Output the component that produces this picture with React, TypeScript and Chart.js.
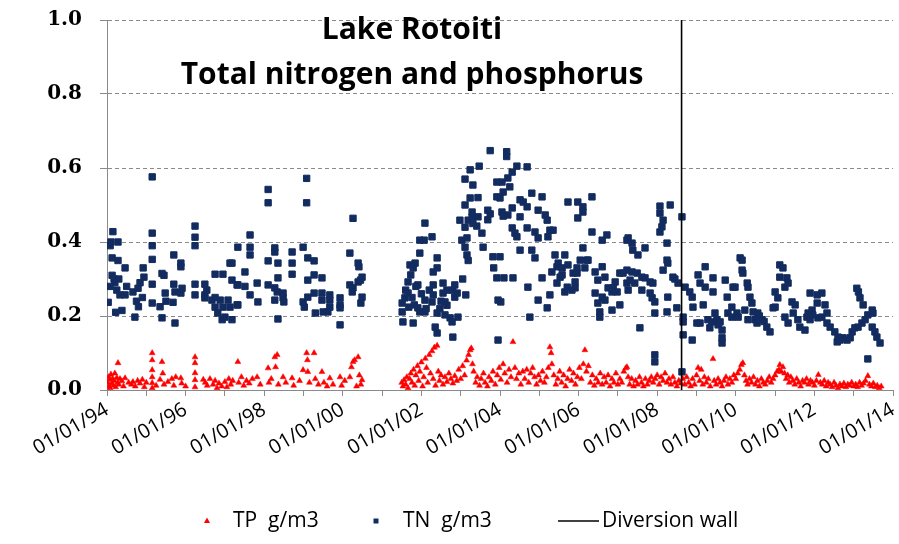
import React, { useEffect, useRef } from "react";
import { Chart, registerables } from "chart.js";

Chart.register(...registerables);

// ---------- data ----------
const titleLines = ["Lake Rotoiti", "Total nitrogen and phosphorus"];
const xTickYears = [1994, 1995, 1996, 1997, 1998, 1999, 2000, 2001, 2002, 2003, 2004, 2005, 2006, 2007, 2008, 2009, 2010, 2011, 2012, 2013, 2014];
const xTickLabels = ["01/01/94", "01/01/96", "01/01/98", "01/01/00", "01/01/02", "01/01/04", "01/01/06", "01/01/08", "01/01/10", "01/01/12", "01/01/14"];
const yTicks = [0, 0.2, 0.4, 0.6, 0.8, 1.0];
const diversionWallYear = 2008.62;
const legendLabels = ["TP  g/m3", "TN  g/m3", "Diversion wall"];

// TN g/m3 : [decimal year, value]
const tnEarly: [number, number][] = [
  [1994.03, 0.237], [1994.08, 0.39], [1994.08, 0.28], [1994.1, 0.4], [1994.13, 0.357], [1994.13, 0.31], [1994.15, 0.428], [1994.18, 0.3], [1994.2, 0.29], [1994.22, 0.21], [1994.25, 0.27], [1994.28, 0.4], [1994.28, 0.35], [1994.3, 0.3], [1994.33, 0.257], [1994.38, 0.215], [1994.46, 0.33], [1994.46, 0.257], [1994.5, 0.28], [1994.66, 0.265], [1994.71, 0.197], [1994.75, 0.24], [1994.79, 0.275], [1994.8, 0.225], [1994.84, 0.29], [1994.9, 0.25], [1994.92, 0.33], [1994.94, 0.305],
  [1995.15, 0.576], [1995.15, 0.424], [1995.15, 0.39], [1995.15, 0.353], [1995.15, 0.286], [1995.15, 0.235], [1995.35, 0.225], [1995.4, 0.315], [1995.4, 0.195], [1995.45, 0.31], [1995.48, 0.262], [1995.5, 0.24], [1995.68, 0.237], [1995.7, 0.365], [1995.7, 0.286], [1995.73, 0.265], [1995.73, 0.181], [1995.88, 0.343], [1995.88, 0.333], [1995.88, 0.262], [1995.91, 0.275],
  [1996.24, 0.443], [1996.24, 0.413], [1996.24, 0.39], [1996.24, 0.286], [1996.24, 0.257], [1996.49, 0.286], [1996.49, 0.257], [1996.49, 0.249], [1996.54, 0.27], [1996.67, 0.243], [1996.75, 0.313], [1996.75, 0.25], [1996.75, 0.224], [1996.82, 0.208], [1996.88, 0.243], [1996.93, 0.19], [1996.95, 0.313], [1996.95, 0.224],
  [1997.0, 0.197], [1997.08, 0.243], [1997.13, 0.343], [1997.13, 0.224], [1997.18, 0.343], [1997.18, 0.297], [1997.18, 0.19], [1997.31, 0.23], [1997.31, 0.284], [1997.33, 0.386], [1997.33, 0.284], [1997.33, 0.23], [1997.51, 0.319], [1997.51, 0.28], [1997.64, 0.419], [1997.64, 0.386], [1997.64, 0.365], [1997.64, 0.257], [1997.82, 0.289], [1997.84, 0.238],
  [1998.1, 0.542], [1998.1, 0.506], [1998.1, 0.349], [1998.1, 0.284], [1998.27, 0.384], [1998.27, 0.373], [1998.27, 0.276], [1998.27, 0.243], [1998.33, 0.265], [1998.35, 0.343], [1998.35, 0.303], [1998.35, 0.192], [1998.48, 0.262], [1998.48, 0.249], [1998.5, 0.238], [1998.71, 0.373], [1998.71, 0.343], [1998.71, 0.313], [1998.99, 0.386], [1998.99, 0.238],
  [1999.02, 0.224], [1999.08, 0.572], [1999.08, 0.506], [1999.11, 0.357], [1999.11, 0.297], [1999.11, 0.251], [1999.27, 0.349], [1999.27, 0.311], [1999.27, 0.262], [1999.3, 0.208], [1999.47, 0.303], [1999.47, 0.262], [1999.47, 0.243], [1999.5, 0.211], [1999.67, 0.257], [1999.67, 0.243], [1999.67, 0.224], [1999.62, 0.211], [1999.93, 0.249], [1999.93, 0.23], [1999.93, 0.222], [1999.93, 0.176],
  [2000.18, 0.37], [2000.18, 0.284], [2000.26, 0.464], [2000.26, 0.276], [2000.24, 0.265], [2000.39, 0.343], [2000.39, 0.292], [2000.41, 0.333], [2000.45, 0.297], [2000.49, 0.305], [2000.49, 0.251], [2000.46, 0.235],
];

const tnMid: [number, number][] = [
  [2001.51, 0.235], [2001.51, 0.211], [2001.53, 0.184], [2001.58, 0.249], [2001.6, 0.27], [2001.66, 0.262], [2001.66, 0.292], [2001.68, 0.224], [2001.71, 0.338], [2001.73, 0.311], [2001.76, 0.25], [2001.79, 0.33], [2001.79, 0.181], [2001.82, 0.23], [2001.84, 0.343], [2001.86, 0.28], [2001.91, 0.284], [2001.91, 0.222], [2001.96, 0.405], [2001.96, 0.37], [2001.96, 0.211],
  [2002.0, 0.26], [2002.07, 0.405], [2002.09, 0.451], [2002.09, 0.243], [2002.09, 0.211], [2002.12, 0.22], [2002.2, 0.27], [2002.27, 0.414], [2002.27, 0.238], [2002.3, 0.319], [2002.3, 0.284], [2002.3, 0.257], [2002.35, 0.17], [2002.4, 0.357], [2002.4, 0.33], [2002.4, 0.208], [2002.4, 0.154], [2002.47, 0.22], [2002.5, 0.24], [2002.55, 0.289], [2002.55, 0.262], [2002.6, 0.238], [2002.6, 0.203], [2002.65, 0.27], [2002.65, 0.229], [2002.73, 0.195], [2002.78, 0.184], [2002.8, 0.27], [2002.8, 0.143], [2002.85, 0.284], [2002.85, 0.251], [2002.91, 0.262], [2002.93, 0.197], [2002.98, 0.459],
  [2003.03, 0.405], [2003.05, 0.3], [2003.11, 0.57], [2003.11, 0.5], [2003.11, 0.44], [2003.11, 0.386], [2003.13, 0.257], [2003.16, 0.411], [2003.16, 0.365], [2003.19, 0.459], [2003.19, 0.35], [2003.24, 0.595], [2003.24, 0.519], [2003.29, 0.481], [2003.29, 0.468], [2003.31, 0.554], [2003.31, 0.45], [2003.41, 0.443], [2003.44, 0.52], [2003.44, 0.468], [2003.47, 0.605], [2003.54, 0.424], [2003.57, 0.386], [2003.69, 0.486], [2003.69, 0.46], [2003.75, 0.647], [2003.75, 0.476], [2003.82, 0.36], [2003.84, 0.33], [2003.92, 0.562], [2003.92, 0.522], [2003.92, 0.303], [2003.95, 0.243], [2003.95, 0.135],
  [2004.0, 0.519], [2004.0, 0.36], [2004.02, 0.238], [2004.05, 0.562], [2004.05, 0.481], [2004.08, 0.535], [2004.08, 0.47], [2004.1, 0.303], [2004.17, 0.644], [2004.17, 0.631], [2004.2, 0.573], [2004.2, 0.473], [2004.25, 0.549], [2004.31, 0.589], [2004.31, 0.492], [2004.31, 0.438], [2004.33, 0.303], [2004.38, 0.424], [2004.43, 0.605], [2004.43, 0.414], [2004.51, 0.514], [2004.51, 0.468], [2004.51, 0.378], [2004.59, 0.508], [2004.69, 0.603], [2004.69, 0.495], [2004.69, 0.438], [2004.71, 0.278], [2004.76, 0.197], [2004.81, 0.532], [2004.81, 0.378], [2004.89, 0.427], [2004.89, 0.357], [2004.97, 0.486], [2004.97, 0.411], [2004.97, 0.243],
  [2005.07, 0.522], [2005.07, 0.303], [2005.15, 0.473], [2005.2, 0.459], [2005.2, 0.222], [2005.22, 0.414], [2005.27, 0.432], [2005.27, 0.257], [2005.32, 0.319], [2005.35, 0.432], [2005.4, 0.365], [2005.45, 0.333], [2005.45, 0.289], [2005.48, 0.343], [2005.53, 0.305], [2005.58, 0.33], [2005.58, 0.311], [2005.65, 0.365], [2005.65, 0.265], [2005.71, 0.278], [2005.73, 0.508], [2005.73, 0.338], [2005.83, 0.27], [2005.86, 0.316], [2005.91, 0.292], [2005.91, 0.276], [2005.96, 0.33], [2005.96, 0.316], [2005.98, 0.508], [2005.98, 0.465],
  [2006.04, 0.351], [2006.11, 0.495], [2006.11, 0.481], [2006.11, 0.384], [2006.16, 0.33], [2006.21, 0.351], [2006.24, 0.351], [2006.34, 0.522], [2006.34, 0.427], [2006.42, 0.319], [2006.42, 0.262], [2006.49, 0.297], [2006.49, 0.235], [2006.54, 0.211], [2006.54, 0.197], [2006.6, 0.405], [2006.6, 0.333], [2006.6, 0.251], [2006.67, 0.305], [2006.67, 0.243], [2006.72, 0.419], [2006.75, 0.276], [2006.85, 0.265], [2006.85, 0.216], [2006.88, 0.276], [2006.93, 0.292], [2006.98, 0.265],
  [2007.05, 0.316], [2007.05, 0.23], [2007.13, 0.316], [2007.23, 0.405], [2007.23, 0.289], [2007.23, 0.324], [2007.26, 0.411], [2007.26, 0.27], [2007.31, 0.297], [2007.36, 0.397], [2007.36, 0.319], [2007.38, 0.378], [2007.43, 0.289], [2007.49, 0.316], [2007.51, 0.365], [2007.56, 0.168], [2007.61, 0.305], [2007.61, 0.27], [2007.69, 0.384], [2007.69, 0.303], [2007.82, 0.292], [2007.82, 0.262], [2007.87, 0.249], [2007.89, 0.289], [2007.94, 0.238], [2007.94, 0.208], [2007.94, 0.095], [2007.94, 0.076],
  [2008.07, 0.497], [2008.07, 0.478], [2008.07, 0.427], [2008.12, 0.441], [2008.15, 0.459], [2008.15, 0.324], [2008.25, 0.397], [2008.25, 0.351], [2008.25, 0.211], [2008.27, 0.343], [2008.27, 0.251], [2008.33, 0.5], [2008.4, 0.305], [2008.45, 0.3], [2008.5, 0.222], [2008.53, 0.289], [2008.63, 0.468], [2008.63, 0.049],
];

const tnLate: [number, number][] = [
  [2008.66, 0.197], [2008.66, 0.184], [2008.66, 0.149], [2008.71, 0.278], [2008.83, 0.265], [2008.89, 0.251], [2008.89, 0.135], [2008.91, 0.224],
  [2009.01, 0.181], [2009.04, 0.311], [2009.09, 0.289], [2009.09, 0.181], [2009.17, 0.23], [2009.22, 0.333], [2009.22, 0.278], [2009.29, 0.19], [2009.34, 0.168], [2009.39, 0.184], [2009.42, 0.303], [2009.42, 0.265], [2009.47, 0.208], [2009.52, 0.19], [2009.55, 0.176], [2009.6, 0.184], [2009.65, 0.162], [2009.65, 0.141], [2009.65, 0.127], [2009.73, 0.297], [2009.78, 0.251], [2009.8, 0.208], [2009.9, 0.224], [2009.9, 0.197], [2009.93, 0.278], [2009.98, 0.278],
  [2010.03, 0.208], [2010.06, 0.197], [2010.11, 0.357], [2010.16, 0.351], [2010.16, 0.324], [2010.18, 0.316], [2010.23, 0.216], [2010.29, 0.289], [2010.31, 0.278], [2010.31, 0.19], [2010.36, 0.251], [2010.41, 0.235], [2010.44, 0.211], [2010.49, 0.19], [2010.54, 0.181], [2010.56, 0.208], [2010.6, 0.2], [2010.67, 0.19], [2010.72, 0.185], [2010.79, 0.17], [2010.87, 0.157], [2010.95, 0.222],
  [2011.0, 0.265], [2011.0, 0.224], [2011.07, 0.249], [2011.12, 0.338], [2011.12, 0.305], [2011.2, 0.33], [2011.25, 0.278], [2011.25, 0.197], [2011.3, 0.303], [2011.33, 0.289], [2011.33, 0.181], [2011.43, 0.238], [2011.46, 0.208], [2011.51, 0.23], [2011.58, 0.19], [2011.63, 0.17], [2011.76, 0.162], [2011.81, 0.197], [2011.84, 0.208], [2011.89, 0.262], [2011.89, 0.19], [2011.94, 0.216], [2011.96, 0.203],
  [2012.07, 0.257], [2012.07, 0.235], [2012.09, 0.195], [2012.19, 0.262], [2012.19, 0.197], [2012.27, 0.23], [2012.32, 0.208], [2012.32, 0.181], [2012.4, 0.17], [2012.52, 0.157], [2012.58, 0.13], [2012.6, 0.143], [2012.65, 0.135], [2012.73, 0.141], [2012.83, 0.135], [2012.91, 0.141], [2012.96, 0.157],
  [2013.03, 0.168], [2013.08, 0.275], [2013.11, 0.17], [2013.12, 0.265], [2013.16, 0.249], [2013.21, 0.181], [2013.24, 0.23], [2013.29, 0.19], [2013.36, 0.203], [2013.36, 0.084], [2013.47, 0.216], [2013.47, 0.17], [2013.49, 0.208], [2013.54, 0.157], [2013.59, 0.143], [2013.67, 0.127],
];

// TP g/m3 : [decimal year, value]
const tpEarly: [number, number][] = [
  [1994.02, 0.02], [1994.04, 0.035], [1994.05, 0.01], [1994.07, 0.028], [1994.08, 0.005], [1994.1, 0.042], [1994.12, 0.018], [1994.14, 0.03], [1994.16, 0.012], [1994.18, 0.025], [1994.2, 0.045], [1994.22, 0.008], [1994.25, 0.033], [1994.27, 0.02], [1994.28, 0.073], [1994.3, 0.015], [1994.33, 0.03], [1994.38, 0.024], [1994.42, 0.01], [1994.46, 0.032], [1994.55, 0.02], [1994.62, 0.015], [1994.66, 0.022], [1994.72, 0.01], [1994.78, 0.025], [1994.84, 0.018], [1994.9, 0.028], [1994.95, 0.008],
  [1995.0, 0.02], [1995.15, 0.1], [1995.15, 0.081], [1995.15, 0.054], [1995.15, 0.035], [1995.15, 0.019], [1995.15, 0.005], [1995.25, 0.012], [1995.35, 0.028], [1995.4, 0.076], [1995.42, 0.045], [1995.45, 0.015], [1995.55, 0.022], [1995.65, 0.03], [1995.7, 0.012], [1995.75, 0.035], [1995.88, 0.032], [1995.9, 0.018],
  [1996.0, 0.01], [1996.24, 0.089], [1996.24, 0.073], [1996.24, 0.046], [1996.24, 0.027], [1996.24, 0.008], [1996.45, 0.028], [1996.5, 0.02], [1996.55, 0.012], [1996.62, 0.03], [1996.7, 0.015], [1996.75, 0.025], [1996.8, 0.005], [1996.85, 0.018], [1996.92, 0.01],
  [1997.0, 0.022], [1997.05, 0.008], [1997.1, 0.03], [1997.15, 0.015], [1997.2, 0.025], [1997.33, 0.076], [1997.35, 0.02], [1997.42, 0.035], [1997.48, 0.012], [1997.55, 0.025], [1997.62, 0.018], [1997.7, 0.03], [1997.82, 0.035], [1997.9, 0.015],
  [1998.1, 0.059], [1998.12, 0.02], [1998.18, 0.03], [1998.27, 0.089], [1998.29, 0.062], [1998.33, 0.095], [1998.36, 0.015], [1998.48, 0.035], [1998.55, 0.02], [1998.71, 0.032], [1998.75, 0.012], [1998.9, 0.025], [1998.99, 0.054],
  [1999.08, 0.1], [1999.1, 0.081], [1999.11, 0.049], [1999.15, 0.02], [1999.27, 0.1], [1999.3, 0.03], [1999.38, 0.015], [1999.47, 0.049], [1999.52, 0.02], [1999.6, 0.01], [1999.67, 0.032], [1999.75, 0.015], [1999.93, 0.035], [1999.97, 0.012],
  [2000.05, 0.025], [2000.18, 0.035], [2000.22, 0.062], [2000.26, 0.076], [2000.3, 0.081], [2000.35, 0.01], [2000.39, 0.089], [2000.42, 0.04], [2000.46, 0.015], [2000.49, 0.027],
];

const tpMid: [number, number][] = [
  [2001.5, 0.02], [2001.53, 0.01], [2001.56, 0.027], [2001.6, 0.015], [2001.63, 0.035], [2001.66, 0.005], [2001.7, 0.03], [2001.73, 0.045], [2001.76, 0.02], [2001.8, 0.055], [2001.83, 0.012], [2001.86, 0.04], [2001.9, 0.065], [2001.93, 0.025], [2001.96, 0.05],
  [2002.0, 0.075], [2002.03, 0.01], [2002.06, 0.035], [2002.1, 0.085], [2002.13, 0.06], [2002.16, 0.02], [2002.2, 0.095], [2002.23, 0.045], [2002.27, 0.105], [2002.3, 0.03], [2002.33, 0.115], [2002.36, 0.012], [2002.4, 0.12], [2002.43, 0.05], [2002.46, 0.025], [2002.5, 0.04], [2002.55, 0.015], [2002.6, 0.035], [2002.65, 0.022], [2002.7, 0.045], [2002.75, 0.03], [2002.8, 0.018], [2002.85, 0.038], [2002.9, 0.025], [2002.95, 0.055],
  [2003.0, 0.03], [2003.05, 0.065], [2003.1, 0.04], [2003.15, 0.08], [2003.2, 0.095], [2003.24, 0.108], [2003.27, 0.113], [2003.3, 0.07], [2003.33, 0.05], [2003.38, 0.02], [2003.42, 0.035], [2003.48, 0.012], [2003.52, 0.03], [2003.58, 0.045], [2003.62, 0.02], [2003.68, 0.01], [2003.72, 0.035], [2003.78, 0.025], [2003.82, 0.05], [2003.88, 0.015], [2003.93, 0.04], [2003.98, 0.06],
  [2004.02, 0.028], [2004.08, 0.07], [2004.12, 0.045], [2004.18, 0.02], [2004.23, 0.055], [2004.28, 0.035], [2004.33, 0.13], [2004.38, 0.06], [2004.42, 0.03], [2004.48, 0.045], [2004.53, 0.015], [2004.58, 0.05], [2004.63, 0.03], [2004.68, 0.055], [2004.73, 0.02], [2004.78, 0.045], [2004.83, 0.06], [2004.88, 0.035], [2004.93, 0.015], [2004.98, 0.04],
  [2005.03, 0.025], [2005.08, 0.05], [2005.13, 0.02], [2005.18, 0.035], [2005.23, 0.06], [2005.27, 0.116], [2005.3, 0.1], [2005.32, 0.07], [2005.37, 0.04], [2005.42, 0.015], [2005.47, 0.03], [2005.52, 0.05], [2005.57, 0.02], [2005.62, 0.04], [2005.67, 0.01], [2005.72, 0.03], [2005.77, 0.055], [2005.82, 0.025], [2005.87, 0.045], [2005.92, 0.015], [2005.97, 0.035],
  [2006.02, 0.06], [2006.07, 0.03], [2006.12, 0.07], [2006.16, 0.108], [2006.2, 0.05], [2006.25, 0.065], [2006.3, 0.02], [2006.35, 0.04], [2006.4, 0.012], [2006.45, 0.03], [2006.5, 0.02], [2006.55, 0.045], [2006.6, 0.015], [2006.65, 0.035], [2006.7, 0.02], [2006.75, 0.04], [2006.8, 0.01], [2006.85, 0.03], [2006.9, 0.02], [2006.95, 0.045],
  [2007.0, 0.015], [2007.05, 0.03], [2007.1, 0.02], [2007.15, 0.05], [2007.2, 0.059], [2007.23, 0.062], [2007.26, 0.035], [2007.3, 0.015], [2007.35, 0.03], [2007.4, 0.01], [2007.45, 0.025], [2007.5, 0.015], [2007.55, 0.035], [2007.6, 0.02], [2007.65, 0.01], [2007.7, 0.03], [2007.75, 0.015], [2007.8, 0.025], [2007.85, 0.035], [2007.9, 0.02], [2007.95, 0.03],
  [2008.0, 0.04], [2008.05, 0.015], [2008.1, 0.035], [2008.15, 0.025], [2008.2, 0.045], [2008.25, 0.02], [2008.3, 0.03], [2008.35, 0.015], [2008.4, 0.035], [2008.45, 0.02], [2008.5, 0.01], [2008.55, 0.025], [2008.6, 0.018],
];

const tpLate: [number, number][] = [
  [2008.65, 0.03], [2008.7, 0.015], [2008.75, 0.035], [2008.8, 0.02], [2008.85, 0.01], [2008.9, 0.03], [2008.95, 0.015],
  [2009.0, 0.04], [2009.04, 0.06], [2009.08, 0.025], [2009.12, 0.055], [2009.16, 0.015], [2009.2, 0.035], [2009.25, 0.02], [2009.3, 0.03], [2009.35, 0.01], [2009.42, 0.084], [2009.45, 0.025], [2009.5, 0.015], [2009.55, 0.03], [2009.6, 0.02], [2009.65, 0.01], [2009.7, 0.025], [2009.75, 0.035], [2009.8, 0.015], [2009.85, 0.03], [2009.9, 0.02], [2009.95, 0.04],
  [2010.0, 0.03], [2010.05, 0.045], [2010.1, 0.055], [2010.14, 0.068], [2010.18, 0.073], [2010.22, 0.04], [2010.26, 0.025], [2010.3, 0.015], [2010.35, 0.03], [2010.4, 0.02], [2010.45, 0.035], [2010.5, 0.015], [2010.55, 0.025], [2010.6, 0.01], [2010.65, 0.03], [2010.7, 0.02], [2010.75, 0.015], [2010.8, 0.025], [2010.85, 0.035], [2010.9, 0.02], [2010.95, 0.03],
  [2011.0, 0.04], [2011.05, 0.05], [2011.1, 0.055], [2011.12, 0.068], [2011.16, 0.049], [2011.2, 0.062], [2011.24, 0.045], [2011.28, 0.03], [2011.32, 0.04], [2011.36, 0.02], [2011.4, 0.035], [2011.45, 0.025], [2011.5, 0.015], [2011.55, 0.03], [2011.6, 0.02], [2011.65, 0.01], [2011.7, 0.025], [2011.75, 0.02], [2011.8, 0.03], [2011.85, 0.015], [2011.9, 0.025], [2011.95, 0.02],
  [2012.0, 0.012], [2012.05, 0.025], [2012.1, 0.041], [2012.15, 0.02], [2012.2, 0.015], [2012.25, 0.025], [2012.3, 0.01], [2012.35, 0.02], [2012.4, 0.015], [2012.45, 0.008], [2012.5, 0.02], [2012.55, 0.012], [2012.6, 0.005], [2012.65, 0.015], [2012.7, 0.01], [2012.75, 0.018], [2012.8, 0.008], [2012.85, 0.015], [2012.9, 0.012], [2012.95, 0.02],
  [2013.0, 0.01], [2013.05, 0.015], [2013.1, 0.008], [2013.15, 0.02], [2013.2, 0.012], [2013.25, 0.018], [2013.3, 0.025], [2013.36, 0.038], [2013.4, 0.015], [2013.45, 0.01], [2013.5, 0.018], [2013.55, 0.008], [2013.6, 0.012], [2013.65, 0.005], [2013.7, 0.01],
];

// ---------- styles ----------
const TP_COLOR = "#ff0000";
const TN_COLOR = "#132c60";
const GRID_COLOR = "#8a8a8a";
const SANS = "'Open Sans', Lato, sans-serif";

const toPts = (arr: [number, number][]) => arr.map(([x, y]) => ({ x, y }));

const overlayPlugin = {
  id: "overlay",
  afterDraw(chart: any) {
    const ctx: CanvasRenderingContext2D = chart.ctx;
    ctx.save();
    // title inside plot
    ctx.fillStyle = "#000";
    ctx.textAlign = "center";
    ctx.textBaseline = "alphabetic";
    ctx.font = `bold 30px ${SANS}`;
    ctx.fillText(titleLines[0], 412, 39);
    ctx.fillText(titleLines[1], 412, 84);

    // legend
    const ly = 521;
    ctx.font = `21px ${SANS}`;
    ctx.textAlign = "left";
    ctx.textBaseline = "middle";
    // TP triangle
    ctx.fillStyle = TP_COLOR;
    ctx.beginPath();
    ctx.moveTo(207, ly - 3.5);
    ctx.lineTo(210, ly + 2);
    ctx.lineTo(204, ly + 2);
    ctx.closePath();
    ctx.fill();
    ctx.fillStyle = "#000";
    ctx.fillText(legendLabels[0], 233, ly);
    // TN square
    ctx.fillStyle = TN_COLOR;
    ctx.fillRect(373.5, ly - 2.5, 5, 5);
    ctx.fillStyle = "#000";
    ctx.fillText(legendLabels[1], 403, ly);
    // line
    ctx.strokeStyle = "#000";
    ctx.lineWidth = 1.5;
    ctx.beginPath();
    ctx.moveTo(558, ly);
    ctx.lineTo(599, ly);
    ctx.stroke();
    ctx.fillText(legendLabels[2], 602, ly);
    ctx.restore();
  },
};

export default function App() {
  const canvasRef = useRef<HTMLCanvasElement | null>(null);

  useEffect(() => {
    document.body.style.margin = "0";
    const canvas = canvasRef.current;
    if (!canvas) return;
    const chart = new Chart(canvas, {
      type: "scatter",
      data: {
        datasets: [
          {
            label: legendLabels[0],
            data: toPts([...tpEarly, ...tpMid, ...tpLate]),
            pointStyle: "triangle",
            pointRadius: 3.4,
            backgroundColor: TP_COLOR,
            borderColor: TP_COLOR,
            borderWidth: 0.5,
            order: 1,
          },
          {
            label: legendLabels[1],
            data: toPts([...tnEarly, ...tnMid, ...tnLate]),
            pointStyle: "rect",
            pointRadius: 4.5,
            backgroundColor: TN_COLOR,
            borderColor: TN_COLOR,
            borderWidth: 1,
            order: 2,
          },
          {
            label: legendLabels[2],
            data: [
              { x: diversionWallYear, y: yTicks[0] },
              { x: diversionWallYear, y: yTicks[yTicks.length - 1] },
            ],
            showLine: true,
            pointRadius: 0,
            borderColor: "#000",
            borderWidth: 1.6,
            order: 0,
          } as any,
        ],
      },
      options: {
        animation: false,
        responsive: true,
        maintainAspectRatio: false,
        layout: { padding: { top: 20, right: 6, left: 0, bottom: 0 } },
        plugins: {
          legend: { display: false },
          title: { display: false },
          tooltip: { enabled: false },
        },
        scales: {
          x: {
            type: "linear",
            min: xTickYears[0],
            max: xTickYears[xTickYears.length - 1],
            afterBuildTicks: (scale: any) => {
              scale.ticks = xTickYears.map((v) => ({ value: v }));
            },
            afterFit: (scale: any) => {
              scale.height = 154;
              scale.paddingRight = 0;
              scale.paddingLeft = 0;
            },
            ticks: {
              autoSkip: false,
              maxRotation: 30,
              minRotation: 30,
              padding: 2,
              color: "#000",
              font: { family: SANS, size: 20 },
              callback: (v: any) => {
                const i = xTickYears.indexOf(Number(v));
                return i % 2 === 0 ? xTickLabels[i / 2] : "";
              },
            },
            grid: {
              drawOnChartArea: false,
              drawTicks: true,
              tickLength: 6,
              tickColor: GRID_COLOR,
              color: GRID_COLOR,
            },
            border: { display: true, color: GRID_COLOR, width: 1 },
          },
          y: {
            type: "linear",
            min: yTicks[0],
            max: yTicks[yTicks.length - 1],
            afterBuildTicks: (scale: any) => {
              scale.ticks = yTicks.map((v) => ({ value: v }));
            },
            afterFit: (scale: any) => {
              scale.width = 107;
              scale.paddingTop = 0;
              scale.paddingBottom = 0;
            },
            ticks: {
              padding: 18,
              color: "#000",
              font: { family: "'DejaVu Serif', serif", size: 20, weight: "bold" },
              callback: (v: any) => Number(v).toFixed(1),
            },
            grid: {
              color: GRID_COLOR,
              lineWidth: 1,
              drawTicks: true,
              tickLength: 7,
              tickColor: GRID_COLOR,
              tickBorderDash: [],
            },
            border: { display: true, color: GRID_COLOR, width: 1, dash: [4, 3] },
          },
        },
      },
      plugins: [overlayPlugin],
    });
    return () => chart.destroy();
  }, []);

  return (
    <div style={{ width: 899, height: 544, position: "relative", background: "#fff" }}>
      <canvas ref={canvasRef} />
    </div>
  );
}
